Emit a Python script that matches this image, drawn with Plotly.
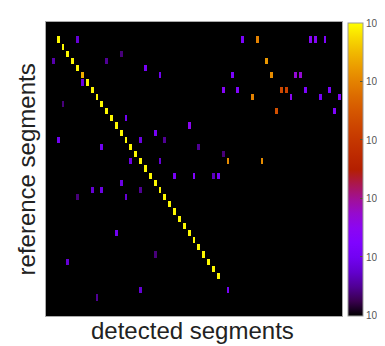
import numpy as np
import plotly.graph_objects as go

# grid size (rows = reference segments, cols = detected segments)
n_rows = 41
n_cols = 61

# diagonal matches (row, col) with log10 value
diag_rows = list(range(2, 36))
diag_cols = list(range(2, 36))
diag_vals = [-0.05, -0.05, -0.05, -0.05, -0.05, -0.6] + [-0.05] * 28

# off-diagonal entries
off_rows = [2, 2, 2, 2, 2, 2,
            4, 5, 5, 5, 6,
            7, 7, 7, 7, 7, 8,
            9, 9, 9, 9, 9, 9,
            11, 10, 10, 10, 10,
            12, 12, 13, 14, 15,
            16, 16, 16, 17, 17, 18,
            19, 19, 19, 19,
            21, 21, 21, 21, 22,
            23, 23, 23, 24, 24,
            29, 32, 33, 37, 37, 38]
off_cols = [6, 40, 43, 54, 55, 57,
            15, 1, 12, 45, 20,
            23, 38, 46, 51, 52, 7,
            36, 39, 48, 49, 53, 58,
            3, 42, 50, 56, 60,
            47, 59, 16, 29, 22,
            2, 19, 24, 11, 31, 36,
            17, 23, 37, 44,
            26, 30, 34, 35, 15,
            9, 11, 19, 6, 16,
            14, 22, 4, 19, 37, 10]
off_vals = [-4.2, -3.8, -1.0, -3.6, -3.6, -3.7,
            -4.6, -4.4, -4.5, -0.8, -3.9,
            -4.0, -3.8, -0.9, -3.3, -3.3, -4.1,
            -3.6, -3.7, -1.7, -1.8, -3.8, -3.8,
            -4.6, -1.0, -3.5, -3.9, -3.7,
            -1.6, -3.7, -4.0, -3.5, -3.9,
            -4.0, -4.1, -4.5, -4.0, -4.5, -4.6,
            -4.1, -4.2, -0.9, -0.9,
            -3.9, -3.7, -4.3, -3.9, -4.1,
            -4.2, -4.1, -4.5, -4.6, -4.2,
            -4.0, -4.6, -4.2, -4.2, -3.9, -4.5]

cbar_tickvals = [-5, -4, -3, -2, -1, 0]
cbar_ticktext = ["10<sup>-5</sup>", "10<sup>-4</sup>", "10<sup>-3</sup>",
                 "10<sup>-2</sup>", "10<sup>-1</sup>", "10<sup>0</sup>"]

z = np.full((n_rows, n_cols), np.nan)
for r, c, v in zip(diag_rows, diag_cols, diag_vals):
    z[r, c] = v
for r, c, v in zip(off_rows, off_cols, off_vals):
    z[r, c] = v

# gnuplot-style palette (black - violet - red - orange - yellow)
stops = np.linspace(0, 1, 21)
cscale = []
for s in stops:
    r = np.sqrt(s)
    g = s ** 3
    b = max(0.0, np.sin(2 * np.pi * s))
    cscale.append([float(s), f"rgb({int(r*255)},{int(g*255)},{int(b*255)})"])

CB_LEN = 0.995
fig = go.Figure(go.Heatmap(
    z=z,
    x=list(range(n_cols)),
    y=list(range(n_rows)),
    zmin=-5, zmax=0,
    colorscale=cscale,
    xgap=2, ygap=1,
    hoverongaps=False,
    colorbar=dict(
        x=1.02, xanchor="left", xpad=0,
        y=0.5, yanchor="middle", len=CB_LEN, lenmode="fraction", ypad=0,
        thickness=15,
        outlinecolor="#999", outlinewidth=1,
        tickvals=cbar_tickvals, showticklabels=False,
        ticks="inside", ticklen=3, tickcolor="#553",
    ),
))

# colorbar tick labels as text beside the bar
cb_bottom = 0.5 - CB_LEN / 2
for v, t in zip(cbar_tickvals, cbar_ticktext):
    fig.add_annotation(text=t, xref="paper", yref="paper",
                       x=1.078, y=cb_bottom + (v + 5) / 5 * CB_LEN,
                       xanchor="left", yanchor="middle", showarrow=False,
                       borderpad=0,
                       font=dict(size=10, color="#555",
                                 family="Arial, Liberation Sans"))

fig.update_xaxes(range=[-0.5, n_cols - 0.5], showticklabels=False, ticks="",
                 showgrid=False, zeroline=False, showline=True, mirror=True,
                 linecolor="#aaa", linewidth=1)
fig.update_yaxes(range=[n_rows - 0.5, -0.5], showticklabels=False, ticks="",
                 showgrid=False, zeroline=False, showline=True, mirror=True,
                 linecolor="#aaa", linewidth=1)

fig.add_annotation(text="detected segments", xref="paper", yref="paper",
                   x=0.495, y=-0.1, xanchor="center", yanchor="bottom",
                   showarrow=False, borderpad=0,
                   font=dict(size=24, color="#222", family="Arial, Liberation Sans"))
fig.add_annotation(text="reference segments", xref="paper", yref="paper",
                   x=-0.066, y=0.5, xanchor="center", yanchor="middle",
                   textangle=-90, showarrow=False,
                   font=dict(size=24, color="#222", family="Arial, Liberation Sans"))

# the page body has an 8px default margin, so the figure is sized to fit
fig.update_layout(
    width=377, height=338,
    margin=dict(l=38, r=43, t=14, b=30),
    paper_bgcolor="white", plot_bgcolor="black",
    showlegend=False,
)

fig.write_html("out.html")
